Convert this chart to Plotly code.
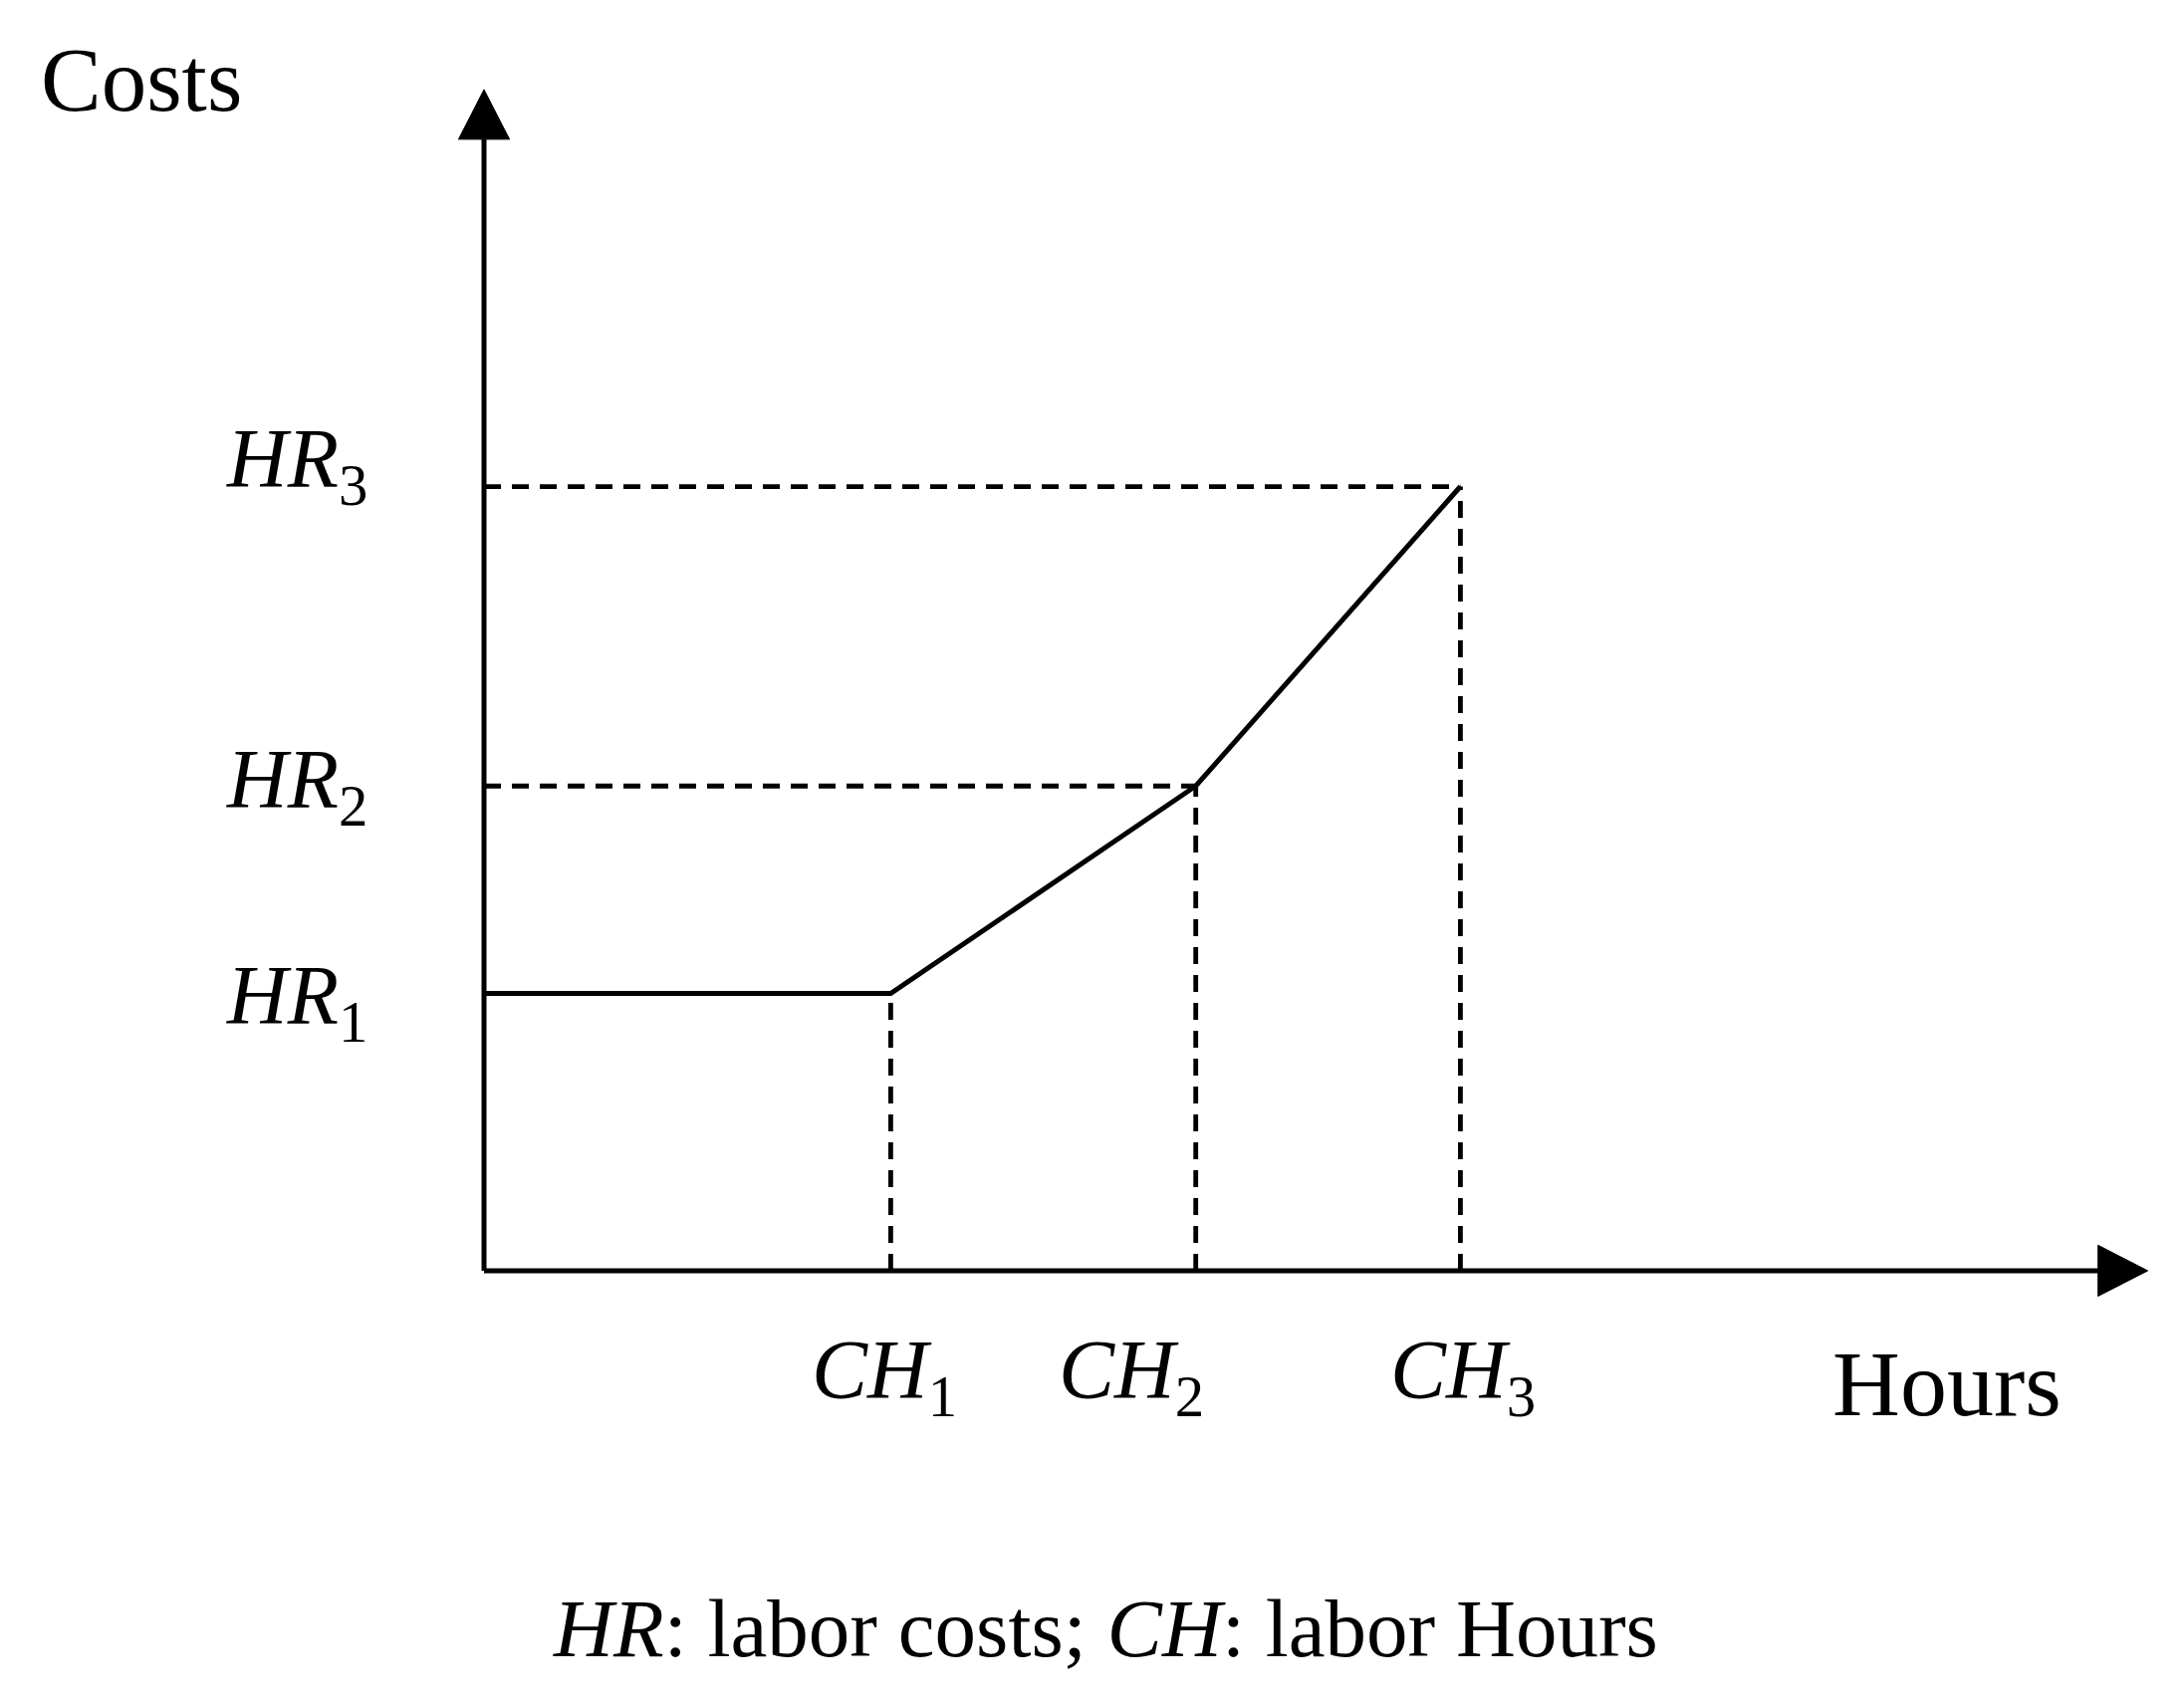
import plotly.graph_objects as go

# Schematic values (arbitrary units, origin at the axes corner)
ch_labels = ["CH1", "CH2", "CH3"]
ch_values = [2.92, 5.11, 7.01]      # labor hours break points
hr_labels = ["HR1", "HR2", "HR3"]
hr_values = [1.99, 3.48, 5.63]      # labor cost levels

# cost curve: flat at HR1 up to CH1, then rising through (CH2, HR2) to (CH3, HR3)
curve_x = [0.0, ch_values[0], ch_values[1], ch_values[2]]
curve_y = [hr_values[0], hr_values[0], hr_values[1], hr_values[2]]

X_TIP, Y_TIP = 11.945, 8.48
HEAD_LEN, HEAD_HALF = 0.357, 0.183
FONT = "Liberation Serif, Times New Roman, serif"
INK = "black"

fig = go.Figure()

fig.add_trace(go.Scatter(x=curve_x, y=curve_y, mode="lines",
                         line=dict(color=INK, width=5), hoverinfo="skip"))

# dashed guides
dash = dict(color=INK, width=4.8, dash="17px,11px")
for i in (1, 2):
    fig.add_trace(go.Scatter(x=[0, ch_values[i]], y=[hr_values[i], hr_values[i]],
                             mode="lines", line=dash, hoverinfo="skip"))
for i in range(3):
    fig.add_trace(go.Scatter(x=[ch_values[i], ch_values[i]], y=[0, hr_values[i]],
                             mode="lines", line=dash, hoverinfo="skip"))

# axes with arrowheads
axis_line = dict(color=INK, width=5)
fig.add_shape(type="line", x0=0, y0=0, x1=0, y1=Y_TIP - HEAD_LEN, line=axis_line)
fig.add_shape(type="line", x0=0, y0=0, x1=X_TIP - HEAD_LEN, y1=0, line=axis_line)
fig.add_shape(type="path", fillcolor=INK, line=dict(color=INK, width=1),
              path=f"M {-HEAD_HALF} {Y_TIP - HEAD_LEN} L {HEAD_HALF} {Y_TIP - HEAD_LEN} L 0 {Y_TIP} Z")
fig.add_shape(type="path", fillcolor=INK, line=dict(color=INK, width=1),
              path=f"M {X_TIP - HEAD_LEN} {-HEAD_HALF} L {X_TIP - HEAD_LEN} {HEAD_HALF} L {X_TIP} 0 Z")

# labels
hr_shift = [-8, 0, 22]
for lab, v, dy in zip(hr_labels, hr_values, hr_shift):
    fig.add_annotation(x=-0.82, y=v, yshift=dy, xanchor="right", yanchor="middle",
                       showarrow=False, text=f"<i>{lab[:2]}</i><sub>{lab[2:]}</sub>",
                       font=dict(family=FONT, size=84, color=INK))
ch_pos = [2.875, 4.65, 7.03]
for lab, px in zip(ch_labels, ch_pos):
    fig.add_annotation(x=px, y=-0.76, xanchor="center", yanchor="middle", showarrow=False,
                       text=f"<i>{lab[:2]}</i><sub>{lab[2:]}</sub>",
                       font=dict(family=FONT, size=84, color=INK))

fig.add_annotation(x=-2.46, y=8.55, xanchor="center", yanchor="middle", showarrow=False,
                   text="Costs", font=dict(family=FONT, size=91, color=INK))
fig.add_annotation(x=10.5, y=-0.81, xanchor="center", yanchor="middle", showarrow=False,
                   text="Hours", font=dict(family=FONT, size=94, color=INK))
fig.add_annotation(x=4.46, y=-2.57, xanchor="center", yanchor="middle", showarrow=False,
                   text="<i>HR</i>: labor costs; <i>CH</i>: labor Hours",
                   font=dict(family=FONT, size=83, color=INK))

fig.update_layout(width=2193, height=1713, margin=dict(l=0, r=0, t=0, b=0),
                  paper_bgcolor="white", plot_bgcolor="white", showlegend=False)
fig.update_xaxes(range=[-3.475, 12.205], visible=False)
fig.update_yaxes(range=[-3.125, 9.123], visible=False)

fig.write_html("out.html", config={"displayModeBar": False},
               post_script="document.body.style.margin='0';")
